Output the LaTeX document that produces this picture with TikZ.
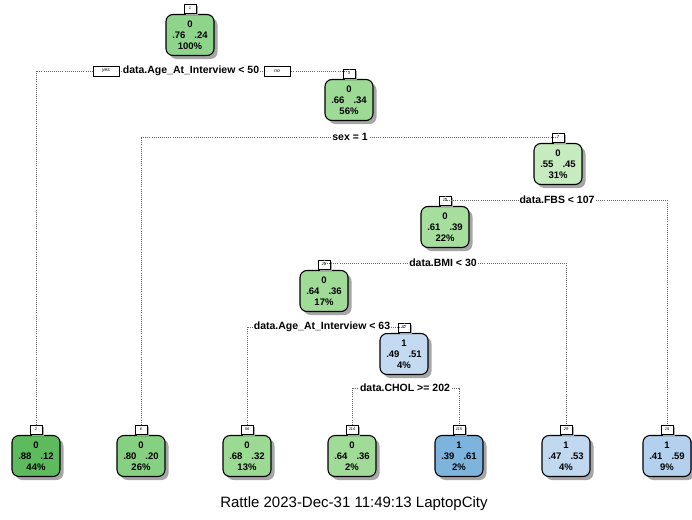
\documentclass[tikz,border=0pt]{standalone}
\usepackage{fontspec}
\setmainfont{Liberation Sans}
\usetikzlibrary{shadows}
\definecolor{gA}{HTML}{8ED48A}
\definecolor{gB}{HTML}{9CDA95}
\definecolor{gC}{HTML}{C6EBBF}
\definecolor{gD}{HTML}{A6DE9D}
\definecolor{gE}{HTML}{A0DC97}
\definecolor{gF}{HTML}{5DBB5D}
\definecolor{gG}{HTML}{86D181}
\definecolor{gH}{HTML}{9ADA92}
\definecolor{bA}{HTML}{C4DAF0}
\definecolor{bB}{HTML}{7DB4DD}
\definecolor{bC}{HTML}{C1D9F0}
\definecolor{bD}{HTML}{B3D1EE}
\tikzset{
  treebox/.style={draw=black, line width=1.1pt, rounded corners=7pt,
    minimum width=48pt, minimum height=41pt, inner sep=0pt, align=center,
    font=\fontsize{9.5}{11}\selectfont\bfseries,
    drop shadow={shadow xshift=3.5pt, shadow yshift=-3.5pt, fill=black!35, opacity=1}},
  tagbox/.style={draw=black, line width=0.8pt, fill=white,
    minimum width=12pt, minimum height=9pt, inner sep=0pt,
    font=\fontsize{4}{4}\selectfont\itshape,
    drop shadow={shadow xshift=2pt, shadow yshift=-2pt, fill=black!35, opacity=1}},
  branch/.style={black!60, line width=1pt, dash pattern=on 0.9pt off 1.2pt},
  splitlab/.style={fill=white, inner sep=1pt, font=\fontsize{10.5}{12}\selectfont\bfseries},
  yesno/.style={draw=black, line width=0.8pt, fill=white, minimum width=26pt,
    minimum height=10pt, inner sep=0pt, font=\fontsize{5}{5}\selectfont\itshape}
}
\newcommand{\probs}[3]{#1\\.#2\hspace{9pt}.#3}
\begin{document}
\begin{tikzpicture}[x=1pt,y=-1pt]
\useasboundingbox (0,0) rectangle (692,519);

% tree nodes
\node[treebox, fill=gA] (n1)   at (190,35)  {\probs{0}{76}{24}\\100\%};
\node[treebox, fill=gB] (n3)   at (349,100) {\probs{0}{66}{34}\\56\%};
\node[treebox, fill=gC] (n7)   at (558,164) {\probs{0}{55}{45}\\31\%};
\node[treebox, fill=gD] (n14)  at (445,227) {\probs{0}{61}{39}\\22\%};
\node[treebox, fill=gE] (n28)  at (324,291) {\probs{0}{64}{36}\\17\%};
\node[treebox, fill=bA] (n57)  at (404,354) {\probs{1}{49}{51}\\4\%};
\node[treebox, fill=gF] (n2)   at (36,456)  {\probs{0}{88}{12}\\44\%};
\node[treebox, fill=gG] (n6)   at (141,456) {\probs{0}{80}{20}\\26\%};
\node[treebox, fill=gH] (n56)  at (247,456) {\probs{0}{68}{32}\\13\%};
\node[treebox, fill=gE] (n114) at (352,456) {\probs{0}{64}{36}\\2\%};
\node[treebox, fill=bB] (n115) at (459,456) {\probs{1}{39}{61}\\2\%};
\node[treebox, fill=bC] (n29)  at (566,456) {\probs{1}{47}{53}\\4\%};
\node[treebox, fill=bD] (n15)  at (667,456) {\probs{1}{41}{59}\\9\%};

% node number tags
\foreach \n/\lab in {n1/1, n3/3, n7/7, n14/14, n28/28, n57/57, n2/2, n6/6,
                     n56/56, n114/114, n115/115, n29/29, n15/15}
  \node[tagbox, anchor=south] (t\lab) at ([yshift=0.5pt]\n.north) {\lab};

% split positions
\coordinate (s1)  at (191,71);
\coordinate (s3)  at (350,137);
\coordinate (s7)  at (557,200);
\coordinate (s14) at (443,263);
\coordinate (s28) at (322,327);
\coordinate (s57) at (405,388);

% branches
\draw[branch] (t2.north)   |- (s1)  -| (t3.north);
\draw[branch] (t6.north)   |- (s3)  -| (t7.north);
\draw[branch] (t14.north)  |- (s7)  -| (t15.north);
\draw[branch] (t28.north)  |- (s14) -| (t29.north);
\draw[branch] (t56.north)  |- (s28) -| (t57.north);
\draw[branch] (t114.north) |- (s57) -| (t115.north);

% split labels
\node[splitlab] (l1)  at (s1)  {data.Age\_At\_Interview < 50};
\node[yesno] (yes) at (106,71) {yes};
\node[yesno] (no)  at (277,71) {no};
\node[splitlab] (l3)  at (s3)  {sex = 1};
\node[splitlab] (l7)  at (s7)  {data.FBS < 107};
\node[splitlab] (l14) at (s14) {data.BMI < 30};
\node[splitlab] (l28) at (s28) {data.Age\_At\_Interview < 63};
\node[splitlab] (l57) at (s57) {data.CHOL >= 202};

% caption
\node[font=\fontsize{15}{17}\selectfont] (cap) at (354,504)
  {Rattle 2023-Dec-31 11:49:13 LaptopCity};
\end{tikzpicture}
\end{document}
